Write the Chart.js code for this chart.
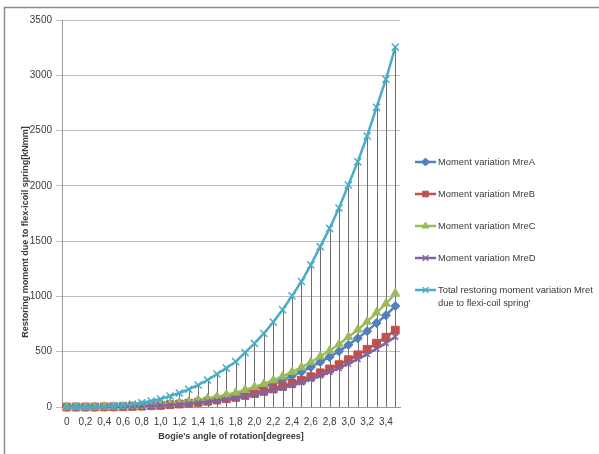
<!DOCTYPE html>
<html>
<head>
<meta charset="utf-8">
<script src="https://cdn.jsdelivr.net/npm/chart.js@4/dist/chart.umd.min.js"></script>
<style>
  html, body { margin: 0; padding: 0; background: #fff; }
  #c { display: block; }
</style>
</head>
<body>
<canvas id="c" width="599" height="454"></canvas>
<script>
// Bogie rotation angle [degrees], one category every 0.1°
const angles = [0, 0.1, 0.2, 0.3, 0.4, 0.5, 0.6, 0.7, 0.8, 0.9,
                1.0, 1.1, 1.2, 1.3, 1.4, 1.5, 1.6, 1.7, 1.8, 1.9,
                2.0, 2.1, 2.2, 2.3, 2.4, 2.5, 2.6, 2.7, 2.8, 2.9,
                3.0, 3.1, 3.2, 3.3, 3.4, 3.5];

// Category axis labels (decimal comma); only every second one is printed
const angleLabels = ['0', '0,1', '0,2', '0,3', '0,4', '0,5', '0,6', '0,7', '0,8', '0,9',
                     '1,0', '1,1', '1,2', '1,3', '1,4', '1,5', '1,6', '1,7', '1,8', '1,9',
                     '2,0', '2,1', '2,2', '2,3', '2,4', '2,5', '2,6', '2,7', '2,8', '2,9',
                     '3,0', '3,1', '3,2', '3,3', '3,4', '3,5'];

// Restoring moments [kNmm]
const mreA = [0, 0.03, 0.3, 0.6, 1.4, 2.5, 4.5, 7.3, 10.6, 15.1,
              20, 28, 36, 45, 56, 68, 83, 99, 115, 138,
              161, 186, 215, 246, 281, 318, 360, 406, 452, 504,
              562, 621, 686, 759, 830, 913];
const mreB = [0, 0.02, 0.2, 0.4, 1.1, 1.9, 3.4, 5.5, 8.1, 11.5,
              15, 21, 27, 34, 42, 52, 63, 75, 87, 105,
              122, 142, 164, 187, 214, 242, 274, 309, 344, 383,
              428, 472, 522, 577, 631, 695];
const mreC = [0, 0.03, 0.3, 0.6, 1.6, 2.8, 5.0, 8.2, 12.0, 17.0,
              23, 31, 40, 50, 63, 77, 94, 111, 129, 155,
              181, 209, 242, 277, 317, 358, 405, 457, 509, 567,
              633, 699, 772, 854, 934, 1028];
const mreD = [0, 0.02, 0.2, 0.4, 1.0, 1.8, 3.1, 5.1, 7.4, 10.5,
              14, 19, 25, 31, 39, 48, 58, 69, 80, 96,
              112, 130, 150, 172, 196, 221, 251, 283, 315, 351,
              392, 433, 478, 528, 578, 635];
const mret = [0, 0.1, 1, 2, 5, 9, 16, 26, 38, 54,
              72, 99, 127, 160, 199, 244, 298, 352, 410, 492,
              575, 665, 768, 880, 1005, 1135, 1285, 1450, 1615, 1800,
              2008, 2218, 2451, 2710, 2964, 3255];

// Value axis ticks
const yTicks = [0, 500, 1000, 1500, 2000, 2500, 3000, 3500];

const seriesNames = [
  ['Moment variation MreA'],
  ['Moment variation MreB'],
  ['Moment variation MreC'],
  ['Moment variation MreD'],
  ['Total restoring moment variation Mret', "due to flexi-coil spring'"]
];
const yTitle = 'Restoring moment due to flex-icoil spring[kNmm]';
const xTitle = "Bogie's angle of rotation[degrees]";

const FONT = "'Liberation Sans', Arial, sans-serif";
const TEXT = '#3a3a3a';

const styles = [
  { color: '#4F81BD', point: 'rectRot',  r: 4.5 },
  { color: '#C0504D', point: 'rect',     r: 5.5 },
  { color: '#9BBB59', point: 'triangle', r: 5 },
  { color: '#8064A2', point: 'crossRot', r: 4 },
  { color: '#4BACC6', point: 'crossRot', r: 5 }
];

function makeSet(i, values) {
  const s = styles[i];
  const cross = s.point === 'crossRot';
  return {
    label: seriesNames[i].join(' '),
    data: values,
    borderColor: s.color,
    backgroundColor: s.color,
    borderWidth: 2.5,
    pointStyle: s.point,
    pointRadius: s.r,
    pointBorderColor: s.color,
    pointBackgroundColor: s.color,
    pointBorderWidth: cross ? 1.5 : 1,
    tension: 0,
    clip: false,
    order: 4 - i
  };
}

// White page with the frame's top and left edges
const framePlugin = {
  id: 'frame',
  beforeDraw(chart) {
    const ctx = chart.ctx;
    ctx.save();
    ctx.fillStyle = '#fff';
    ctx.fillRect(0, 0, chart.width, chart.height);
    ctx.strokeStyle = '#8c8c8c';
    ctx.lineWidth = 1.5;
    ctx.beginPath();
    ctx.moveTo(4.5, chart.height);
    ctx.lineTo(4.5, 7.5);
    ctx.lineTo(chart.width, 7.5);
    ctx.stroke();
    ctx.restore();
  }
};

// Drop lines from every point of the total series down to the category axis
const dropLinePlugin = {
  id: 'dropLines',
  beforeDatasetsDraw(chart) {
    const ctx = chart.ctx;
    const meta = chart.getDatasetMeta(4);
    const y0 = chart.scales.y.getPixelForValue(0);
    ctx.save();
    ctx.strokeStyle = '#707070';
    ctx.lineWidth = 1;
    meta.data.forEach(p => {
      const x = Math.round(p.x) + 0.5;
      ctx.beginPath();
      ctx.moveTo(x, p.y);
      ctx.lineTo(x, y0);
      ctx.stroke();
    });
    ctx.restore();
  }
};

// Axis titles and the legend on the right
const textPlugin = {
  id: 'texts',
  afterDraw(chart) {
    const ctx = chart.ctx;
    const area = chart.chartArea;
    ctx.save();
    ctx.fillStyle = TEXT;
    ctx.font = 'bold 9px ' + FONT;
    ctx.textAlign = 'center';
    ctx.textBaseline = 'middle';
    ctx.fillText(xTitle, (area.left + area.right) / 2, 437);
    ctx.translate(26, 232);
    ctx.rotate(-Math.PI / 2);
    ctx.fillText(yTitle, 0, 0);
    ctx.restore();

    // legend
    const x0 = 415, x1 = 436, tx = 438;
    const rows = [162, 194, 226, 258, 290];
    ctx.save();
    ctx.font = '9.4px ' + FONT;
    ctx.textAlign = 'left';
    ctx.textBaseline = 'middle';
    chart.data.datasets.forEach((ds, i) => {
      const y = rows[i];
      ctx.strokeStyle = ds.borderColor;
      ctx.lineWidth = 2.5;
      ctx.beginPath();
      ctx.moveTo(x0, y);
      ctx.lineTo(x1, y);
      ctx.stroke();
      ctx.fillStyle = ds.pointBackgroundColor;
      ctx.strokeStyle = ds.pointBorderColor;
      ctx.lineWidth = ds.pointBorderWidth;
      Chart.helpers.drawPoint(ctx, {
        pointStyle: ds.pointStyle,
        radius: Math.min(ds.pointRadius, 4),
        rotation: 0,
        borderWidth: ds.pointBorderWidth
      }, (x0 + x1) / 2, y);
      ctx.fillStyle = TEXT;
      seriesNames[i].forEach((line, k) => ctx.fillText(line, tx, y + k * 13.5));
    });
    ctx.restore();
  }
};

new Chart(document.getElementById('c'), {
  type: 'line',
  data: {
    labels: angleLabels,
    datasets: [makeSet(0, mreA), makeSet(1, mreB), makeSet(2, mreC), makeSet(3, mreD), makeSet(4, mret)]
  },
  plugins: [framePlugin, dropLinePlugin, textPlugin],
  options: {
    responsive: false,
    animation: false,
    devicePixelRatio: 1,
    layout: { padding: { left: 0, top: 20, right: 199, bottom: 0 } },
    plugins: { legend: { display: false }, tooltip: { enabled: false } },
    scales: {
      x: {
        type: 'category',
        offset: true,
        grid: { display: true, color: 'rgba(0,0,0,0)', tickLength: 5, offset: true },
        border: { display: true, color: '#9a9a9a', width: 1 },
        ticks: {
          autoSkip: false,
          maxRotation: 0,
          padding: 4,
          color: TEXT,
          font: { family: FONT, size: 10 },
          callback: (v, i) => (i % 2 === 0 ? angleLabels[i] : '')
        },
        afterFit(scale) { scale.height = 47; }
      },
      y: {
        min: 0,
        max: 3500,
        afterBuildTicks(scale) { scale.ticks = yTicks.map(v => ({ value: v })); },
        grid: { color: '#bdbdbd', lineWidth: 1, tickLength: 6 },
        border: { display: true, color: '#9a9a9a', width: 1 },
        ticks: {
          padding: 4,
          color: TEXT,
          font: { family: FONT, size: 10 },
          callback: v => String(v)
        },
        afterFit(scale) { scale.width = 62; }
      }
    }
  }
});
</script>
</body>
</html>
